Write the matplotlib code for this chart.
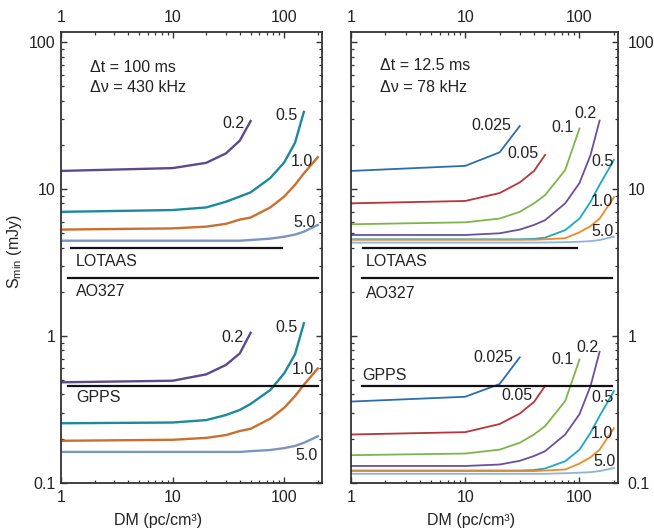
import matplotlib
matplotlib.use("Agg")
import matplotlib.pyplot as plt
from matplotlib.ticker import FixedLocator, FixedFormatter, LogLocator, NullFormatter

plt.rcParams['font.family'] = ['Liberation Sans', 'DejaVu Sans']
plt.rcParams['mathtext.fontset'] = 'custom'
plt.rcParams['mathtext.rm'] = 'Liberation Sans'
plt.rcParams['mathtext.it'] = 'Liberation Sans'

# ---------------- data ----------------
dm = [1, 10, 20, 30, 40, 50, 75, 100, 125, 150, 200]

# left panel (dt = 100 ms, dnu = 430 kHz)
left_widths = ["0.2", "0.5", "1.0", "5.0"]
left_upper = {
    "0.2": [13.3, 13.9, 15.1, 17.5, 21.4, 29.1],
    "0.5": [7.0, 7.2, 7.5, 8.2, 8.9, 9.5, 11.9, 15.2, 20.7, 33.6],
    "1.0": [5.3, 5.4, 5.55, 5.8, 6.2, 6.4, 7.5, 8.9, 10.7, 12.8, 16.5],
    "5.0": [4.45, 4.45, 4.45, 4.45, 4.45, 4.5, 4.6, 4.74, 4.9, 5.13, 5.7],
}
left_lower = {
    "0.2": [0.483, 0.495, 0.547, 0.634, 0.76, 1.05],
    "0.5": [0.254, 0.257, 0.267, 0.289, 0.313, 0.344, 0.428, 0.556, 0.75, 1.22],
    "1.0": [0.193, 0.196, 0.202, 0.211, 0.225, 0.233, 0.273, 0.324, 0.389, 0.465, 0.60],
    "5.0": [0.162, 0.162, 0.162, 0.162, 0.162, 0.164, 0.167, 0.172, 0.178, 0.187, 0.207],
}
left_colors = {"0.2": "#5c4a8c", "0.5": "#1d8a9a", "1.0": "#c9702e", "5.0": "#7a96bf"}

# right panel (dt = 12.5 ms, dnu = 78 kHz)
right_widths = ["0.025", "0.05", "0.1", "0.2", "0.5", "1.0", "5.0"]
right_upper = {
    "0.025": [13.3, 14.4, 17.8, 26.9],
    "0.05": [8.0, 8.3, 9.4, 11.1, 13.3, 17.1],
    "0.1": [5.76, 5.94, 6.3, 7.0, 8.0, 9.1, 13.5, 25.9],
    "0.2": [4.87, 4.87, 5.0, 5.3, 5.7, 6.15, 8.0, 11.0, 17.1, 29.3],
    "0.5": [4.55, 4.55, 4.55, 4.55, 4.58, 4.67, 5.26, 6.3, 8.2, 10.7, 15.8],
    "1.0": [4.52, 4.52, 4.52, 4.52, 4.52, 4.55, 4.63, 5.08, 5.6, 6.3, 8.8],
    "5.0": [4.32, 4.32, 4.32, 4.32, 4.32, 4.33, 4.35, 4.38, 4.42, 4.5, 4.74],
}
right_lower = {
    "0.025": [0.357, 0.385, 0.47, 0.715],
    "0.05": [0.213, 0.221, 0.251, 0.296, 0.355, 0.456],
    "0.1": [0.154, 0.158, 0.168, 0.187, 0.213, 0.243, 0.36, 0.69],
    "0.2": [0.130, 0.130, 0.133, 0.141, 0.152, 0.164, 0.213, 0.293, 0.456, 0.78],
    "0.5": [0.121, 0.121, 0.121, 0.121, 0.122, 0.125, 0.140, 0.168, 0.219, 0.285, 0.42],
    "1.0": [0.120, 0.120, 0.120, 0.120, 0.120, 0.121, 0.123, 0.135, 0.149, 0.168, 0.235],
    "5.0": [0.115, 0.115, 0.115, 0.115, 0.115, 0.115, 0.116, 0.117, 0.118, 0.120, 0.126],
}
right_colors = {"0.025": "#2a6db0", "0.05": "#b5353a", "0.1": "#7db54a", "0.2": "#6a4fa0",
                "0.5": "#1aa8c4", "1.0": "#f08a26", "5.0": "#8cb4e0"}

# survey limits
survey_names = ["LOTAAS", "AO327", "GPPS"]
survey_levels = [3.95, 2.48, 0.456]

xticks = [1, 10, 100]
xticklabels = ["1", "10", "100"]
yticks = [0.1, 1, 10, 100]
yticklabels = ["0.1", "1", "10", "100"]

# ---------------- figure ----------------
W, H = 654, 532
fig = plt.figure(figsize=(W / 100, H / 100), dpi=100)

def px(x, y):
    return x / W, 1 - y / H

axL = fig.add_axes([61 / W, 1 - 482.7 / H, (322 - 61) / W, (482.7 - 32.3) / H])
axR = fig.add_axes([351 / W, 1 - 482.7 / H, (617.7 - 351) / W, (482.7 - 32.3) / H])

FS = 11.5
for ax, xmax in ((axL, 218), (axR, 216)):
    ax.set_xscale('log')
    ax.set_yscale('log')
    ax.set_xlim(1, xmax)
    ax.set_ylim(0.1, 117)
    ax.xaxis.set_major_locator(FixedLocator(xticks))
    ax.xaxis.set_major_formatter(FixedFormatter(xticklabels))
    ax.yaxis.set_major_locator(FixedLocator(yticks))
    ax.yaxis.set_major_formatter(FixedFormatter(yticklabels))
    ax.xaxis.set_minor_locator(LogLocator(base=10, subs=range(2, 10)))
    ax.yaxis.set_minor_locator(LogLocator(base=10, subs=range(2, 10)))
    ax.xaxis.set_minor_formatter(NullFormatter())
    ax.yaxis.set_minor_formatter(NullFormatter())
    ax.tick_params(which='both', direction='in', top=True, right=True, left=True, bottom=True,
                   color='#333333', labelsize=FS, labelcolor='#222222')
    ax.tick_params(which='major', length=4.5, width=1.0)
    ax.tick_params(which='minor', length=2.5, width=0.9)
    ax.tick_params(axis='x', labeltop=True, labelbottom=True, pad=5)
    for s in ax.spines.values():
        s.set_color('#333333')
        s.set_linewidth(1.3)

axL.tick_params(axis='y', labelleft=True, labelright=False, pad=4)
axR.tick_params(axis='y', labelleft=False, labelright=True, pad=7)

# curves
for w in left_widths:
    n = len(left_upper[w])
    axL.plot(dm[:n], left_upper[w], color=left_colors[w], lw=1.7, solid_joinstyle='round')
    axL.plot(dm[:n], left_lower[w], color=left_colors[w], lw=1.7, solid_joinstyle='round')
for w in right_widths:
    n = len(right_upper[w])
    axR.plot(dm[:n], right_upper[w], color=right_colors[w], lw=1.3, solid_joinstyle='round')
    axR.plot(dm[:n], right_lower[w], color=right_colors[w], lw=1.3, solid_joinstyle='round')

# survey lines
axL.plot([1.23, 95], [survey_levels[0]] * 2, color='#111111', lw=1.6)
axL.plot([1.16, 201], [survey_levels[1]] * 2, color='#111111', lw=1.6)
axL.plot([1.16, 201], [survey_levels[2]] * 2, color='#111111', lw=1.6)
axR.plot([1.28, 95], [survey_levels[0]] * 2, color='#111111', lw=1.6)
axR.plot([1.24, 192], [survey_levels[1]] * 2, color='#111111', lw=1.6)
axR.plot([1.24, 192], [survey_levels[2]] * 2, color='#111111', lw=1.6)

tc = '#222222'
def T(x, y, s, ha='center', **kw):
    fig.text(*px(x, y), s, ha=ha, va='center', fontsize=FS, color=tc, **kw)

# survey labels
T(76, 262, survey_names[0], ha='left')
T(76, 291, survey_names[1], ha='left')
T(76, 398, survey_names[2], ha='left')
T(366, 262, survey_names[0], ha='left')
T(366, 293, survey_names[1], ha='left')
T(362, 375, survey_names[2], ha='left')

# panel annotations
T(90, 68, "\u0394t = 100 ms", ha='left')
T(90, 87, "\u0394\u03bd = 430 kHz", ha='left')
T(380, 65, "\u0394t = 12.5 ms", ha='left')
T(380, 87, "\u0394\u03bd = 78 kHz", ha='left')

# curve labels, left
T(233, 124, "0.2"); T(287, 115, "0.5"); T(302, 162, "1.0"); T(304, 222, "5.0")
T(232, 337, "0.2"); T(287, 328, "0.5"); T(303, 370, "1.0"); T(306, 455, "5.0")
# curve labels, right
T(491, 125, "0.025"); T(523, 153, "0.05"); T(563, 128, "0.1"); T(585, 113, "0.2")
T(602, 162, "0.5"); T(602, 202, "1.0"); T(602, 232, "5.0")
T(493, 357, "0.025"); T(517, 395, "0.05"); T(563, 359, "0.1"); T(587, 347, "0.2")
T(602, 397, "0.5"); T(602, 434, "1.0"); T(604, 461, "5.0")

# axis labels
T(158, 520, "DM (pc/cm\u00b3)")
T(471, 520, "DM (pc/cm\u00b3)")
fig.text(*px(15, 252), r"S$_{\rm min}$ (mJy)", rotation=90, ha='center', va='center',
         fontsize=FS, color=tc)

fig.savefig("out.png", dpi=100)
